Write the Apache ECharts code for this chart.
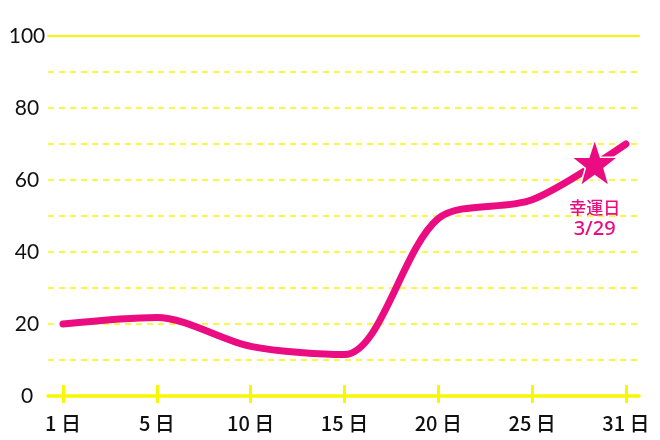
<!DOCTYPE html>
<html>
<head>
<meta charset="utf-8">
<script src="https://cdn.jsdelivr.net/npm/echarts@6/dist/echarts.min.js"></script>
<style>
  html, body { margin: 0; padding: 0; background: #fff; }
  #chart { width: 660px; height: 440px; }
</style>
</head>
<body>
<div id="chart"></div>
<script>
// days shown on the x axis, placed evenly
const dayLabels = ['1 日', '5 日', '10 日', '15 日', '20 日', '25 日', '31 日'];
const values = [20, 21.8, 13.8, 11.5, 49.3, 54.5, 70];
// lucky day marker: position between 25日 (index 5) and 31日 (index 6)
const luckyPos = [5 + 4 / 6, 64.8];
const luckyName = '幸運日';
const luckyDate = '3/29';
const yLabelValues = [0, 20, 40, 60, 80, 100];

const pink = '#ec0c82';
const yellow = '#f7f700';
const tickIdx = dayLabels.map((d, i) => i);

const chart = echarts.init(document.getElementById('chart'));

const option = {
    animation: false,
    grid: { left: 48, right: 21, top: 36, bottom: 44 },
    xAxis: [
        {
            type: 'value',
            min: -0.16,
            max: 6.139,
            position: 'bottom',
            axisLine: { show: true, lineStyle: { color: yellow, width: 3.5 } },
            axisTick: { show: true, customValues: tickIdx, length: 7, lineStyle: { color: yellow, width: 3 } },
            axisLabel: {
                customValues: tickIdx,
                formatter: (v) => dayLabels[Math.round(v)],
                margin: 17,
                fontSize: 20,
                color: '#111',
                fontFamily: 'Noto Sans CJK JP',
                fontWeight: 500,
            },
            splitLine: { show: false },
        },
        {
            // inner half of the ticks (they cross the axis line)
            type: 'value',
            min: -0.16,
            max: 6.139,
            position: 'bottom',
            axisLine: { show: false },
            axisTick: { show: true, inside: true, customValues: tickIdx, length: 11, lineStyle: { color: yellow, width: 3 } },
            axisLabel: { show: false },
            splitLine: { show: false },
        },
        {
            // solid line on top (100)
            type: 'value',
            min: -0.16,
            max: 6.139,
            position: 'top',
            axisLine: { show: true, lineStyle: { color: yellow, width: 2 } },
            axisTick: { show: false },
            axisLabel: { show: false },
            splitLine: { show: false },
        },
    ],
    yAxis: {
        type: 'value',
        min: 0,
        max: 100,
        interval: 10,
        axisLine: { show: false },
        axisTick: { show: false },
        axisLabel: {
            customValues: yLabelValues,
            align: 'center',
            margin: 21,
            fontSize: 21,
            color: '#111',
            fontFamily: 'Lato',
        },
        splitLine: {
            show: true,
            lineStyle: { color: yellow, width: 1.5, type: [6, 5] },
        },
    },
    series: [
        {
            type: 'line',
            xAxisIndex: 0,
            data: values.map((v, i) => [i, v]),
            smooth: 0.3,
            showSymbol: false,
            lineStyle: { color: pink, width: 7, cap: 'round' },
            markPoint: {
                symbol: 'path://M50,0 L61.8,34.5 L97.6,34.5 L69,56 L79.4,90.5 L50,70 L20.6,90.5 L31,56 L2.4,34.5 L38.2,34.5 Z',
                symbolSize: 47,
                itemStyle: { color: pink, borderColor: '#fff', borderWidth: 1.5 },
                label: {
                    show: true,
                    position: 'bottom',
                    distance: 10,
                    formatter: `{a|${luckyName}}\n{b|${luckyDate}}`,
                    rich: {
                        a: { color: pink, fontSize: 17, lineHeight: 22, fontFamily: 'Noto Sans CJK JP', fontWeight: 500 },
                        b: { color: pink, fontSize: 20, lineHeight: 21, fontFamily: 'Noto Sans', fontWeight: 500 },
                    },
                },
                data: [{ coord: luckyPos }],
            },
        },
    ],
};

chart.setOption(option);
</script>
</body>
</html>
